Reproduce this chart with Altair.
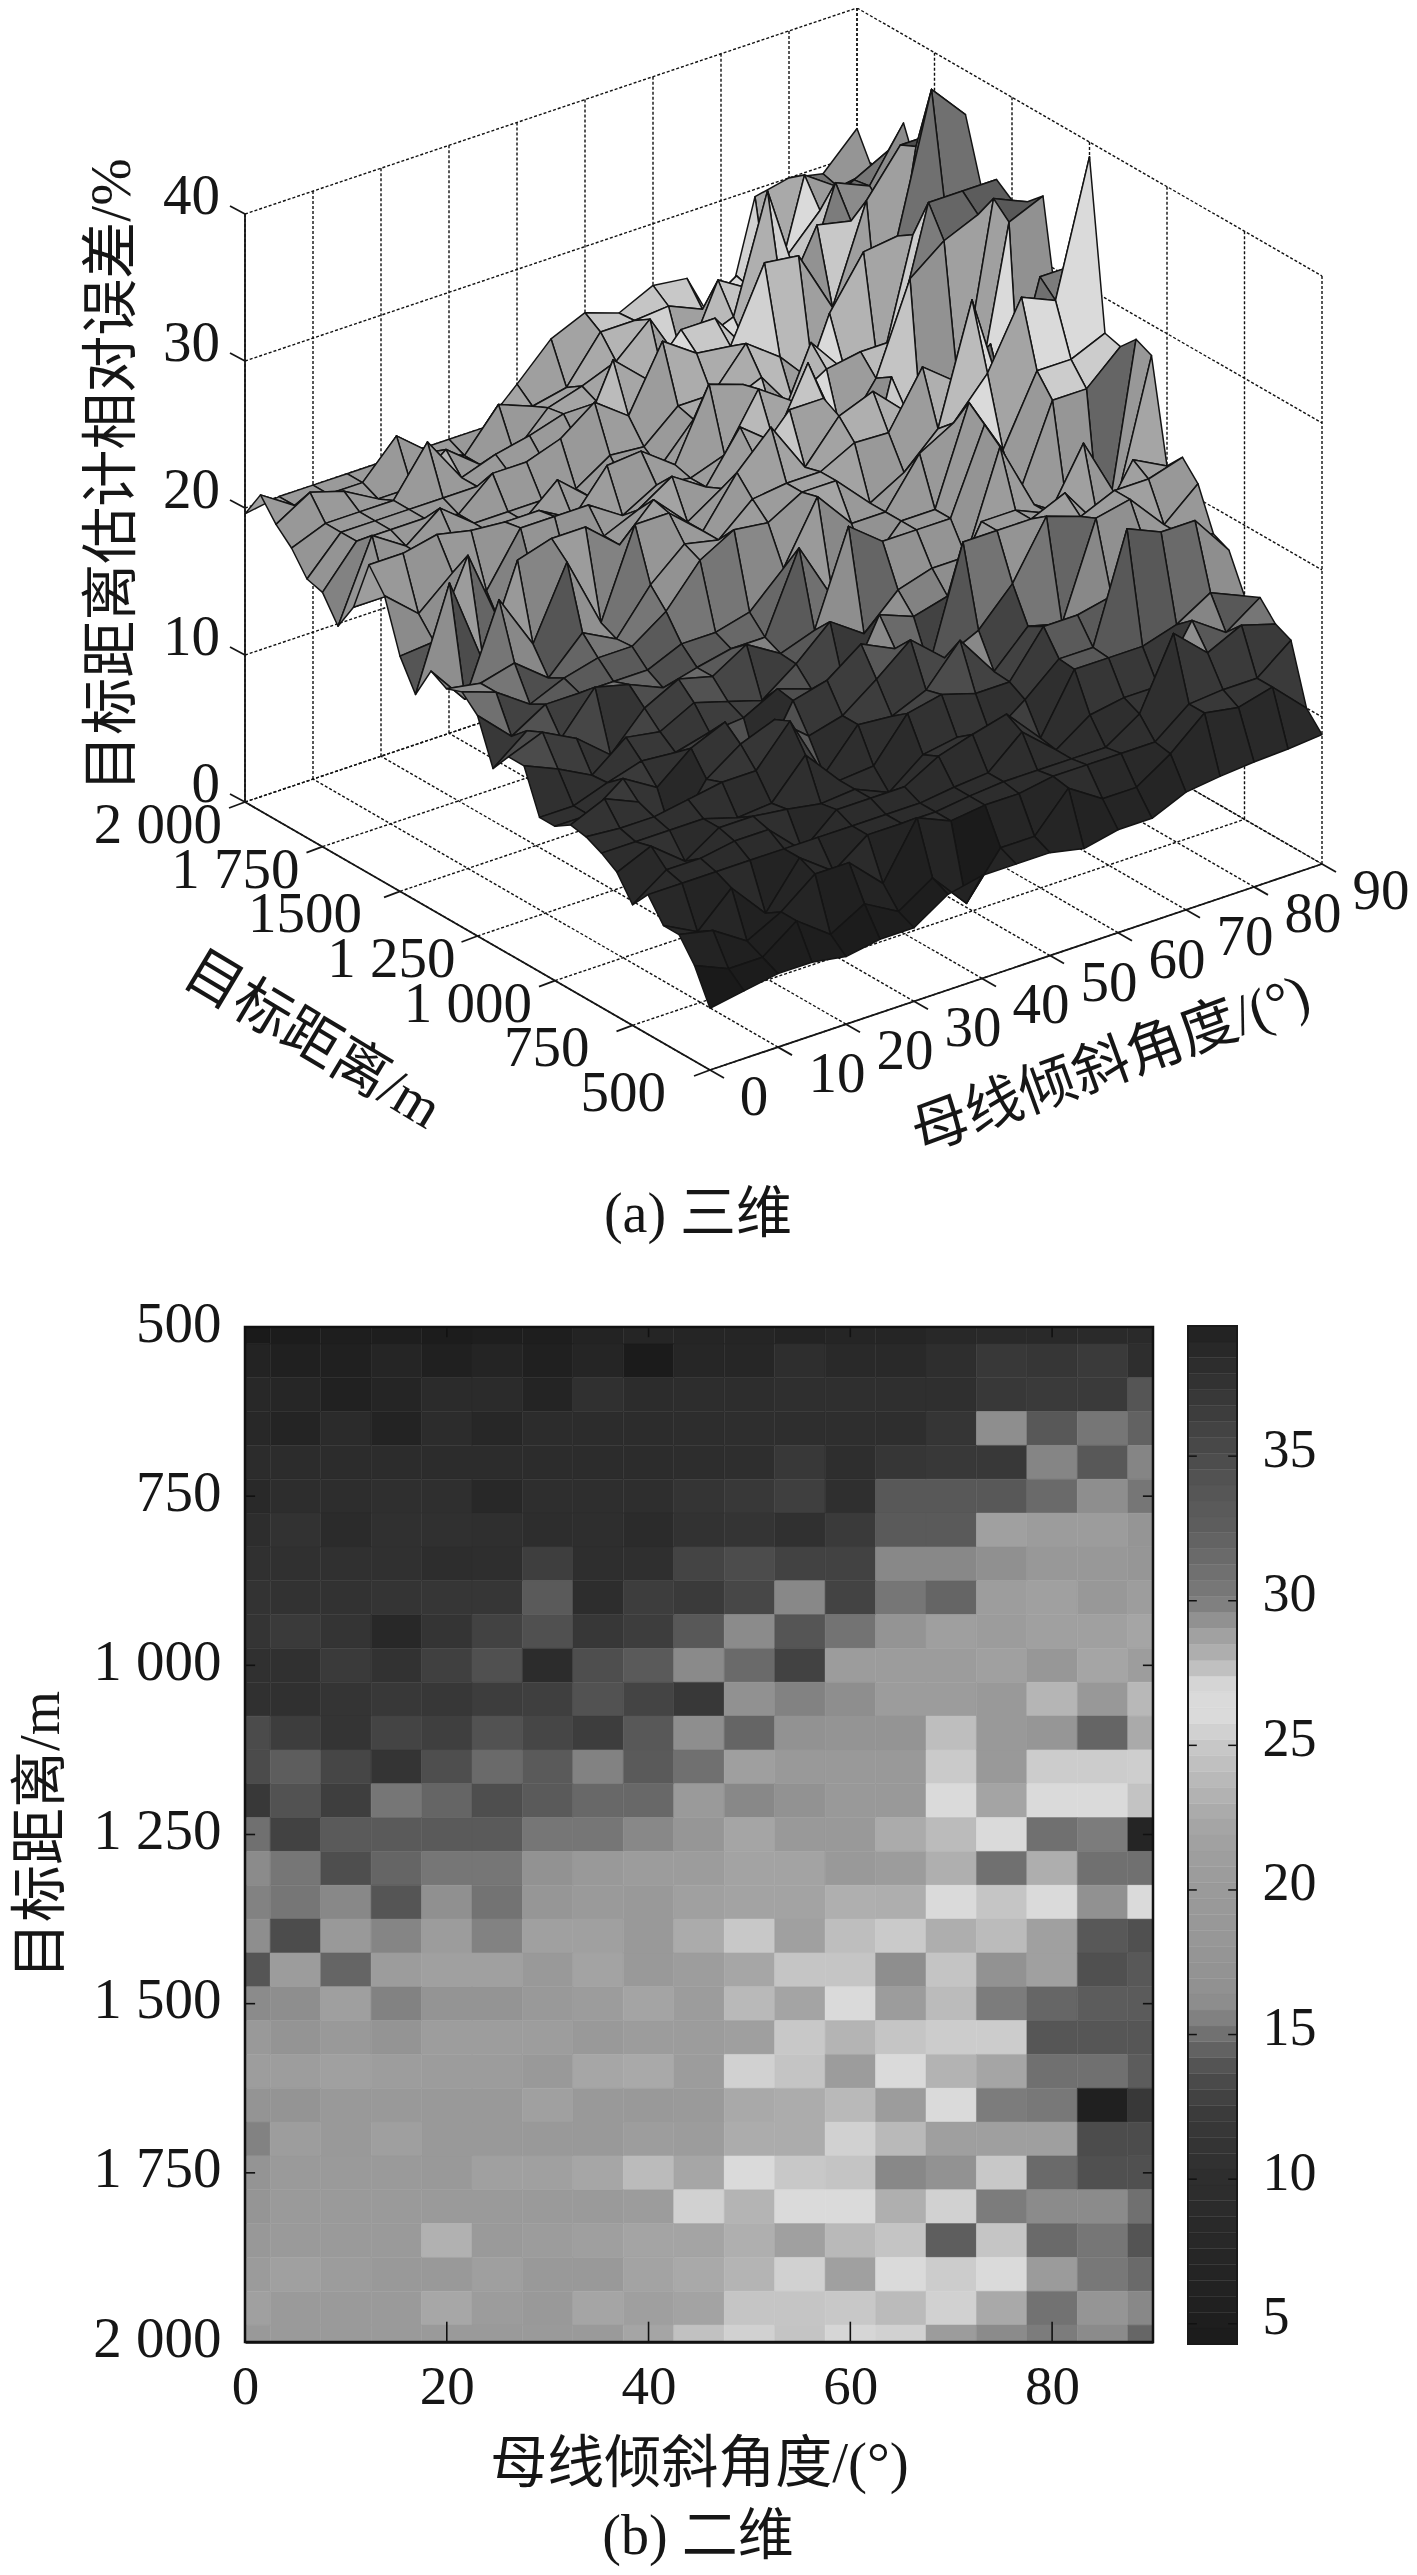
import altair as alt
import numpy as np
import pandas as pd

# ---------- data ----------
ANGLES = list(range(0, 95, 5))
DISTS = list(range(500, 2050, 50))
Z = [
[4.2,4.6,5,5,4.6,5,5,6.5,7,7,7,6.5,7,7,8,8.3,8.5,8.6,8.8],
[6.5,5.5,5.5,7.2,5.5,6.8,5.5,7,4.5,7.5,7.5,10,8.5,8.5,10,12,11.6,12.2,10],
[8,7.5,6,7.2,9,9,6.8,10.5,9.5,9.8,9.8,10.2,10.2,10.2,10.2,12,12.2,12.2,14],
[8,6.8,9,6.5,9.5,7.8,9.5,9.5,9.5,9.8,10,10,10,10,11.5,16.2,14.1,15.2,14.5],
[9.5,9.5,9.5,9.5,9.5,9.5,9.5,9.5,9.5,9.8,10,12,10,11.6,12,12,15.7,14.1,15.7],
[8.2,9.8,9.8,10.2,10.2,8,10,10,10,11.3,12,12.6,10.2,14.1,14.1,14.1,14.8,16.2,15.2],
[9.8,10.8,9,10.5,10.5,10.2,9.8,10,9,10.8,11.2,10.5,12.2,14.2,14.2,21.5,20.5,20.5,17.7],
[10.5,10.5,10.5,10.5,9.8,10,12.5,10,10.2,13,13.5,12.8,12.8,15.8,15.8,16.3,19,19,18.2],
[11,10.8,10.8,11.2,11.6,11.6,14.2,9.8,12.4,12.2,13.2,15.8,12.9,15.2,14.6,21,21.5,19,21],
[11.2,12.2,11.2,8,11.2,12.8,13.7,11.8,12.4,14.1,16,14,15.1,17.5,21.3,20.5,21.5,21.5,22.2],
[10.5,10.5,12.2,10.8,12.7,13.7,9.5,13.6,14.2,15.9,14.8,12.8,20.5,20.5,20.5,21.5,18.5,22.2,21],
[10.5,10.5,11.3,12,11.8,12.4,12.6,13.8,13,12,16.5,15.6,16.2,20.5,20.5,19.5,23.5,19,27.9],
[13.4,12.4,11.2,13,12.6,13.8,13.1,12.4,14.1,16.2,14.6,16.8,17.5,17.5,24.2,19.5,18,14.6,28.4],
[13.4,14.3,13.1,11.2,13.6,14.8,14.2,15.6,14.2,15,21.3,19.5,19.5,19.5,25.1,19.5,25.2,25.2,27.3],
[12,13.8,12.5,15.2,14.6,13.6,14.2,14.7,14.7,20,15.8,17,19.5,19.5,26,22,26.6,26.6,27.6],
[15,12.8,14.2,14.2,14.2,14.2,15.2,15.2,15.8,18,22.1,19.5,19.5,22.7,24,26.6,31,30,39],
[16,15.2,13.6,14.6,15.2,15.2,16.8,19.5,20.8,20.5,21.8,21.8,19.5,20.8,23,31,22.9,31,31],
[15.6,15.2,15.8,14,16.3,15.1,18,20,19.5,21.5,21.8,21.8,23,22.9,26.6,24.8,26.6,16.5,26.6],
[16.2,13.5,19.5,15.7,20.5,15.6,21.5,21.5,19.5,22.7,25,21.5,24.2,25.1,22.9,24,21.5,33.5,34.5],
[14,20.8,14.6,20.8,21.5,21.5,19.5,21.8,19.5,21,22.3,24.8,24.8,16.2,24.7,17,21.5,34.5,33.5],
[16,16.2,21.3,15.6,17.5,17.5,19.5,20.5,22,20.5,23.8,22,26.6,20.8,24,30,31.8,32.8,33],
[19.5,17.5,19.5,17.5,21,21,21,19.5,20.8,20.5,21.3,25,23.4,24.8,25.2,25.2,33.8,33.8,33.8],
[21,21,21.5,21,20.8,20.8,19.5,22.3,22.5,20.8,25.5,24.7,20.8,26,23.3,22.2,31,31,32.8],
[17.5,17.5,19.5,19.5,19.5,19.5,21.5,19.5,19.5,20,22.5,22.8,23.8,20.8,26.6,30,30.3,39.5,37],
[15.6,21,19.5,21.3,19.5,19.5,19.5,19.5,21,20.8,22.8,22.8,25.5,23.8,21.3,21.3,21.3,35,35],
[17.3,20,20,20,19.5,21.5,21.5,22.3,24,22.3,26.6,25,24.7,29.6,29.3,25,31.5,34.5,34.5],
[17.6,20,20,20,20,20,20,20,20.5,25.5,23.4,26,26,23,25.5,30,29.5,29.5,31],
[19.1,20,20,20,23.2,20,20.8,21.3,22,22,23,21.5,23.8,24.7,32.5,24.8,31.5,30.5,34],
[20.1,21.5,20.8,19.5,19.5,21.3,19.5,19.5,21.8,22.5,23.4,25.5,21.5,26.6,25.2,26.6,29,30.3,31.5],
[21.5,20,20,20,22.4,20.5,19.5,22.2,21.3,21.8,24.8,24.8,25,24,25.5,22.5,30.8,29.2,29.6],
[19.6,20,20,20,20,20,20,20,22.2,24.5,25.5,24.7,25.8,25.5,20.8,29.5,30,29.5,31.8],
]
Z_TICKS = [0, 10, 20, 30, 40]
ANGLE_TICKS_3D = [0, 10, 20, 30, 40, 50, 60, 70, 80, 90]
DIST_TICKS = [500, 750, 1000, 1250, 1500, 1750, 2000]
DIST_TEXT_3D = ["500", "750", "1 000", "1 250", "1500", "1 750", "2 000"]
ANGLE_TICKS_2D = [0, 20, 40, 60, 80]
CBAR_TICKS = [5, 10, 15, 20, 25, 30, 35]
Y_TITLE_3D = "目标距离估计相对误差/%"
D_TITLE = "目标距离/m"
A_TITLE = "母线倾斜角度/(°)"
CAP_A = "(a) 三维"
CAP_B = "(b) 二维"

# colour map: value -> grey level
CM_V = [4.2,5,8,10,12,13,14,15,15.8,16.3,18,19.5,21,22.3,23,24,25,26,27,27.6,28,29,30,31,32.5,33.5,35,37,39.5]
CM_G = [26,30,40,46,56,68,85,112,136,144,150,153,157,166,175,187,200,218,218,195,180,155,124,112,94,88,76,56,32]

# ---------- layout ----------
FONT = "Liberation Serif, Noto Sans CJK SC"
INK = "#161616"
W, H, M = 1401, 2559, 8
FRONT = np.array([710.0, 1070.0])
A_VEC = np.array([612.0, -206.0])
D_VEC = np.array([-465.0, -268.0])
Z_PX = 14.7


def proj(a, d, z=0.0):
    p = FRONT + A_VEC * (a / 90.0) + D_VEC * ((d - 500.0) / 1500.0)
    return float(p[0]), float(p[1] - Z_PX * z)


PX = alt.Scale(domain=[0, 1417], range=[-M, 1417 - M], nice=False, zero=False)
PY = alt.Scale(domain=[0, 2575], range=[-M, 2575 - M], nice=False, zero=False)
CM = alt.Scale(domain=CM_V, range=[f"#{g:02x}{g:02x}{g:02x}" for g in CM_G],
               clamp=True, nice=False, zero=False)
HX = alt.Scale(domain=[0, 90], range=[245 - M, 1153 - M], nice=False, zero=False)
HY = alt.Scale(domain=[500, 2000], range=[1327 - M, 2342 - M], nice=False, zero=False)
BX = alt.Scale(domain=[0, 1], range=[1188 - M, 1237 - M], nice=False, zero=False)
BY = alt.Scale(domain=[4.3, 39.5], range=[2344 - M, 1326 - M], nice=False, zero=False)


def segs(rows, **style):
    df = pd.DataFrame(rows, columns=["x", "y", "x2", "y2"])
    return alt.Chart(df).mark_rule(**style).encode(
        x=alt.X("x:Q", scale=PX, axis=None), y=alt.Y("y:Q", scale=PY, axis=None),
        x2="x2:Q", y2="y2:Q")


def labels(rows, size, angle=0, align="center"):
    df = pd.DataFrame(rows, columns=["x", "y", "t"])
    kw = {"angle": angle} if angle else {}
    return alt.Chart(df).mark_text(font=FONT, fontSize=size, color=INK, align=align,
                                   baseline="middle", **kw).encode(
        x=alt.X("x:Q", scale=PX, axis=None), y=alt.Y("y:Q", scale=PY, axis=None),
        text="t:N")


# ---------- 3-D box ----------
dash = dict(stroke="#111111", strokeWidth=1.4, strokeDash=[3, 2])
grid = []
for a in ANGLE_TICKS_3D:
    grid.append((*proj(a, 500), *proj(a, 2000)))
    grid.append((*proj(a, 2000), *proj(a, 2000, 40)))
for d in DIST_TICKS:
    grid.append((*proj(0, d), *proj(90, d)))
    grid.append((*proj(90, d), *proj(90, d, 40)))
for z in Z_TICKS:
    grid.append((*proj(0, 2000, z), *proj(90, 2000, z)))
    grid.append((*proj(90, 2000, z), *proj(90, 500, z)))
grid_layer = segs(grid, **dash)

ax_rows = [(*proj(0, 500), *proj(0, 2000)), (*proj(0, 500), *proj(90, 500)),
           (*proj(0, 2000), *proj(0, 2000, 40))]
ax_rows += [(*proj(0, d), proj(0, d)[0] - 16, proj(0, d)[1] + 6) for d in DIST_TICKS]
ax_rows += [(*proj(a, 500), proj(a, 500)[0] + 14, proj(a, 500)[1] + 8) for a in ANGLE_TICKS_3D]
ax_rows += [(*proj(0, 2000, z), proj(0, 2000, z)[0] - 15, proj(0, 2000, z)[1] - 8) for z in Z_TICKS]
axis_layer = segs(ax_rows, stroke=INK, strokeWidth=1.8)

# surface: far faces first, each face takes the value of its near corner
faces = []
pid = 0
for r in range(len(DISTS) - 2, -1, -1):
    for c in range(len(ANGLES) - 2, -1, -1):
        corners = [(r, c), (r, c + 1), (r + 1, c + 1), (r + 1, c)]
        for k, (i, j) in enumerate(corners):
            x, y = proj(ANGLES[j], DISTS[i], Z[i][j])
            faces.append((pid, k, x, y, Z[r][c]))
        pid += 1
faces = pd.DataFrame(faces, columns=["pid", "k", "x", "y", "v"])
surface = alt.Chart(faces).mark_line(interpolate="linear-closed", stroke="#141414",
                                     strokeWidth=1.5, strokeJoin="round").encode(
    x=alt.X("x:Q", scale=PX, axis=None), y=alt.Y("y:Q", scale=PY, axis=None),
    detail="pid:N", order="k:Q",
    fill=alt.Fill("v:Q", scale=CM, legend=None))

# labels on the 3-D box
z_lab = [(proj(0, 2000, z)[0] - 25, proj(0, 2000, z)[1] - 17, str(z)) for z in Z_TICKS]
D_SHIFT = {500: -44, 750: -43, 1000: -23, 1250: -22, 1500: -38, 1750: -23, 2000: -23}
d_lab = [(proj(0, d)[0] + D_SHIFT[d], proj(0, d)[1] + 24, t) for d, t in zip(DIST_TICKS, DIST_TEXT_3D)]
a_lab = [(proj(a, 500)[0] + (44 if a == 0 else 59), proj(a, 500)[1] + 28, str(a)) for a in ANGLE_TICKS_3D]

texts_3d = [
    labels(z_lab, 57, align="right"),
    labels(d_lab, 57, align="right"),
    labels(a_lab, 57),
    labels([(113, 475, Y_TITLE_3D)], 57, angle=270),
    labels([(312, 1041, D_TITLE)], 57, angle=31),
    labels([(1111, 1065, A_TITLE)], 57, angle=340),
    labels([(698, 1215, CAP_A)], 56),
    labels([(698, 2537, CAP_B)], 56),
]

# ---------- heat map ----------
cells = []
for r, d in enumerate(DISTS):
    for c, a in enumerate(ANGLES):
        cells.append((max(a - 2.5, 0), min(a + 2.5, 90), max(d - 25, 500), min(d + 25, 2000), Z[r][c]))
cells = pd.DataFrame(cells, columns=["x0", "x1", "y0", "y1", "v"])
heat = alt.Chart(cells).mark_rect(strokeWidth=0.5).encode(
    x=alt.X("x0:Q", scale=HX, axis=alt.Axis(
        values=ANGLE_TICKS_2D, offset=-(H - (2342 - M)), tickSize=0, grid=False,
        title=A_TITLE, titleFont=FONT, titleFontSize=57, titleFontWeight="normal", titleColor=INK,
        titlePadding=22, labelFont=FONT, labelFontSize=55, labelColor=INK, labelPadding=18,
        domainColor=INK, domainWidth=2.5, labelFlush=False)),
    x2="x1:Q",
    y=alt.Y("y0:Q", scale=HY, axis=alt.Axis(
        values=DIST_TICKS, offset=-(245 - M), tickSize=0, grid=False,
        labelExpr="replace(format(datum.value, ','), ',', ' ')",
        title=D_TITLE, titleFont=FONT, titleFontSize=57, titleFontWeight="normal", titleColor=INK,
        titlePadding=22, labelFont=FONT, labelFontSize=57, labelColor=INK, labelPadding=24,
        labelOffset=-3, domainColor=INK, domainWidth=2.5, labelFlush=False)),
    y2="y1:Q",
    fill=alt.Fill("v:Q", scale=CM, legend=None),
    stroke=alt.Stroke("v:Q", scale=CM, legend=None))

hx_ticks = pd.DataFrame(
    [(a, 500, 515) for a in ANGLE_TICKS_2D] + [(a, 2000, 1970) for a in ANGLE_TICKS_2D],
    columns=["x", "y", "y2"])
hy_ticks = pd.DataFrame(
    [(0, d, 1) for d in DIST_TICKS] + [(90, d, 89) for d in DIST_TICKS], columns=["x", "y", "x2"])
heat_xt = alt.Chart(hx_ticks).mark_rule(stroke="#111111", strokeWidth=1.6).encode(
    x=alt.X("x:Q", scale=HX, axis=None), y=alt.Y("y:Q", scale=HY, axis=None), y2="y2:Q")
heat_yt = alt.Chart(hy_ticks).mark_rule(stroke="#111111", strokeWidth=1.6).encode(
    x=alt.X("x:Q", scale=HX, axis=None), x2="x2:Q", y=alt.Y("y:Q", scale=HY, axis=None))
heat_frame = alt.Chart(pd.DataFrame([(0, 90, 500, 2000)], columns=["x", "x2", "y", "y2"])).mark_rect(
    fillOpacity=0, fill="white", stroke="#111111", strokeWidth=2.5).encode(
    x=alt.X("x:Q", scale=HX, axis=None), x2="x2:Q", y=alt.Y("y:Q", scale=HY, axis=None), y2="y2:Q")

# ---------- colour bar ----------
edges = np.linspace(4.3, 39.5, 65)
bar = pd.DataFrame({"lo": edges[:-1], "hi": edges[1:], "v": (edges[:-1] + edges[1:]) / 2,
                    "a": 0, "b": 1})
cbar = alt.Chart(bar).mark_rect(strokeWidth=0.4).encode(
    x=alt.X("a:Q", scale=BX, axis=None), x2="b:Q",
    y=alt.Y("lo:Q", scale=BY, axis=alt.Axis(
        orient="right", values=CBAR_TICKS, offset=1237 - M - W, tickSize=0, grid=False,
        title=None, domain=False, labelFont=FONT, labelFontSize=54, labelColor=INK, labelPadding=25,
        labelOffset=-6)),
    y2="hi:Q",
    fill=alt.Fill("v:Q", scale=CM, legend=None),
    stroke=alt.Stroke("v:Q", scale=CM, legend=None))
bar_ticks = pd.DataFrame([(0, 0.18, t) for t in CBAR_TICKS] + [(1, 0.82, t) for t in CBAR_TICKS],
                         columns=["x", "x2", "y"])
cbar_t = alt.Chart(bar_ticks).mark_rule(stroke="#111111", strokeWidth=1.5).encode(
    x=alt.X("x:Q", scale=BX, axis=None), x2="x2:Q", y=alt.Y("y:Q", scale=BY, axis=None))
cbar_f = alt.Chart(pd.DataFrame([(0, 1, 4.3, 39.5)], columns=["x", "x2", "y", "y2"])).mark_rect(
    fillOpacity=0, fill="white", stroke="#1a1a1a", strokeWidth=2).encode(
    x=alt.X("x:Q", scale=BX, axis=None), x2="x2:Q", y=alt.Y("y:Q", scale=BY, axis=None), y2="y2:Q")

chart = alt.layer(
    grid_layer, surface, axis_layer, *texts_3d,
    heat, heat_frame, heat_xt, heat_yt,
    cbar, cbar_f, cbar_t,
).resolve_scale(x="independent", y="independent", fill="independent", stroke="independent").properties(
    width=W, height=H, padding=0, autosize=alt.AutoSizeParams(type="none"),
    background="white",
).configure_view(stroke=None)

chart.save("out.html", embed_options={"renderer": "svg", "actions": False})
